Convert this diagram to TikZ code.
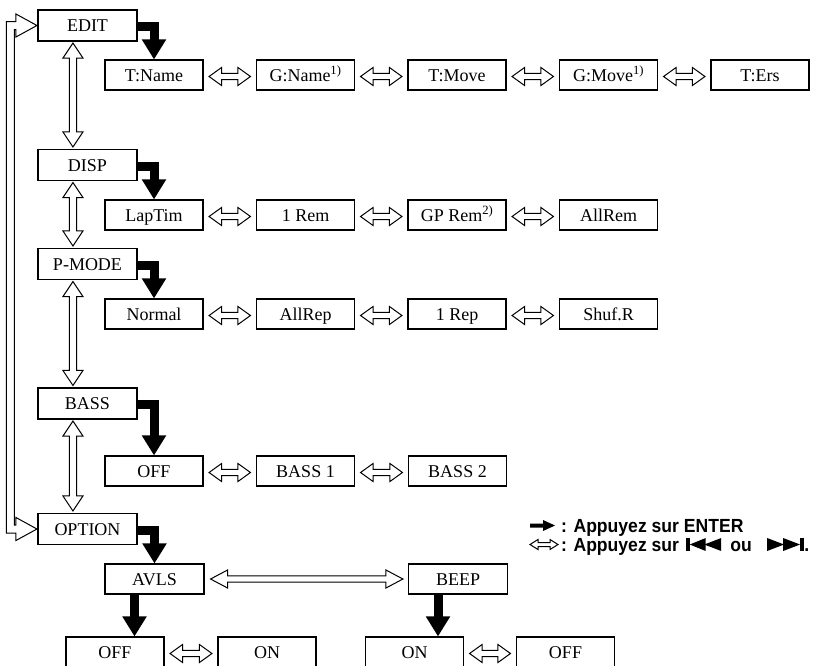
\documentclass[tikz,border=0pt]{standalone}
\usepackage{fontspec}
\setmainfont{Liberation Serif}
\newfontfamily\legendfont[FakeStretch=0.925]{Liberation Sans}
\usetikzlibrary{arrows.meta,calc}

% horizontal hollow double arrow: #1 left tip, #2 right tip, #3 head length, #4 head half height, #5 shaft half
\newcommand\hdarrow[5]{\path[hollow] let \p1=(#1), \p2=(#2) in
  (\x1,\y1) -- ++(#3,#4) -- ++(0pt,#5-#4) -- (\x2-#3,\y1+#5) -- ++(0pt,#4-#5)
  -- (\x2,\y1) -- ++(-#3,-#4) -- ++(0pt,#4-#5) -- (\x1+#3,\y1-#5) -- ++(0pt,#5-#4) -- cycle;}
% vertical hollow double arrow: #1 top tip, #2 bottom tip
\newcommand\vdarrow[5]{\path[hollow] let \p1=(#1), \p2=(#2) in
  (\x1,\y1) -- ++(#4,-#3) -- ++(#5-#4,0pt) -- (\x1+#5,\y2+#3) -- ++(#4-#5,0pt)
  -- (\x1,\y2) -- ++(-#4,#3) -- ++(#4-#5,0pt) -- (\x1-#5,\y1-#3) -- ++(#5-#4,0pt) -- cycle;}
\newcommand\boxarrow[2]{\hdarrow{[xshift=5.5pt,yshift=-1.5pt]#1.east}{[xshift=-5.5pt,yshift=-1.5pt]#2.west}{12.5pt}{9pt}{3.2pt}}
\newcommand\menuarrow[2]{\vdarrow{[xshift=35.5pt,yshift=-1.5pt]#1.south west}{[xshift=35.5pt,yshift=2pt]#2.north west}{15pt}{10pt}{3.6pt}}

\begin{document}
\begin{tikzpicture}[x=1pt,y=-1pt,
  box/.style={draw, line width=1.1pt, minimum width=98pt, minimum height=30pt, inner sep=0pt,
    text height=12pt, text depth=0pt, font=\fontsize{18}{20}\selectfont},
  mbox/.style={box, minimum width=99pt, minimum height=31pt},
  hollow/.style={draw, fill=white, line width=1pt, line join=miter},
  enterarrow/.style={line width=9pt, line join=miter,
    -{Triangle[length=20pt 0 0, width=23pt 0 0]}},
  legend/.style={inner sep=0pt, font=\legendfont\bfseries\fontsize{19}{22}\selectfont}]
\useasboundingbox (0,0) rectangle (821,665);

% main menu
\node[mbox] (EDIT) at (87.5,25.5) {EDIT};
\node[mbox] (DISP) at (87.5,165) {DISP};
\node[mbox] (PMODE) at (87.5,264) {P-MODE};
\node[mbox] (BASS) at (87.5,403.5) {BASS};
\node[mbox] (OPTION) at (87.5,529) {OPTION};

% row 1
\node[box] (TName) at (154,75) {T:Name};
\node[box] (GName) at (305.5,75) {G:Name\textsuperscript{1)}};
\node[box] (TMove) at (457,75) {T:Move};
\node[box] (GMove) at (608.5,75) {G:Move\textsuperscript{1)}};
\node[box] (TErs) at (760,75) {T:Ers};
% row 2
\node[box] (LapTim) at (154,215) {LapTim};
\node[box] (OneRem) at (305.5,215) {1 Rem};
\node[box] (GPRem) at (457,215) {GP Rem\textsuperscript{2)}};
\node[box] (AllRem) at (608.5,215) {AllRem};
% row 3
\node[box] (Normal) at (154,314) {Normal};
\node[box] (AllRep) at (305.5,314) {AllRep};
\node[box] (OneRep) at (457,314) {1 Rep};
\node[box] (ShufR) at (608.5,314) {Shuf.R};
% row 4
\node[box] (OFF) at (154,471) {OFF};
\node[box] (BassOne) at (305.5,471) {BASS 1};
\node[box] (BassTwo) at (457.5,471) {BASS 2};
% option
\node[box, minimum width=99pt] (AVLS) at (154.5,579) {AVLS};
\node[box, minimum width=99pt] (BEEP) at (458,579) {BEEP};
\node[box] (OFFa) at (115,652) {OFF};
\node[box] (ONa) at (267,652) {ON};
\node[box] (ONb) at (414.5,652) {ON};
\node[box] (OFFb) at (565.5,652) {OFF};

% ENTER arrows
\draw[enterarrow] ([yshift=-1pt]EDIT.east) -| (TName.north);
\draw[enterarrow] ([yshift=-1pt]DISP.east) -| (LapTim.north);
\draw[enterarrow] ([yshift=-1pt]PMODE.east) -| (Normal.north);
\draw[enterarrow] ([yshift=-1pt]BASS.east) -| (OFF.north);
\draw[enterarrow] ([yshift=-1pt]OPTION.east) -| (AVLS.north);
\draw[enterarrow] ([xshift=-20pt]AVLS.south) -- ([xshift=-20pt]AVLS.south |- OFFa.north);
\draw[enterarrow] ([xshift=-20pt]BEEP.south) -- ([xshift=-20pt]BEEP.south |- ONb.north);

% horizontal hollow arrows
\boxarrow{TName}{GName}
\boxarrow{GName}{TMove}
\boxarrow{TMove}{GMove}
\boxarrow{GMove}{TErs}
\boxarrow{LapTim}{OneRem}
\boxarrow{OneRem}{GPRem}
\boxarrow{GPRem}{AllRem}
\boxarrow{Normal}{AllRep}
\boxarrow{AllRep}{OneRep}
\boxarrow{OneRep}{ShufR}
\boxarrow{OFF}{BassOne}
\boxarrow{BassOne}{BassTwo}
\boxarrow{OFFa}{ONa}
\boxarrow{ONb}{OFFb}
\hdarrow{[xshift=6pt]AVLS.east}{[xshift=-5pt]BEEP.west}{17pt}{9pt}{3.2pt}

% vertical hollow arrows
\menuarrow{EDIT}{DISP}
\menuarrow{DISP}{PMODE}
\menuarrow{PMODE}{BASS}
\menuarrow{BASS}{OPTION}

% outer loop
\path[hollow] let \p1=([xshift=-0.5pt]EDIT.west), \p2=([xshift=-0.5pt]OPTION.west) in
  (\x1,\y1) -- (\x1-21pt,\y1+11.5pt) -- (\x1-21pt,\y1+4pt) -- (\x1-30.5pt,\y1+4pt)
  -- (\x1-30.5pt,\y2-4pt) -- (\x1-21pt,\y2-4pt) -- (\x1-21pt,\y2-11.5pt) -- (\x2,\y2)
  -- (\x1-21pt,\y2+11.5pt) -- (\x1-21pt,\y2+4pt) -- (\x1-22.5pt,\y2+4pt)
  -- (\x1-22.5pt,\y1-4pt) -- (\x1-21pt,\y1-4pt) -- (\x1-21pt,\y1-11.5pt) -- cycle;

% legend
\node[legend, anchor=base west] (L1) at (561,532) {: Appuyez sur ENTER};
\fill[shift={(L1.base west)}] (-31,-8.5) -- (-18,-8.5) -- (-18,-12) -- (-6,-6.5)
  -- (-18,-1) -- (-18,-4.5) -- (-31,-4.5) -- cycle;
\node[legend, anchor=base west] (L2) at (561,551) {: Appuyez sur};
\coordinate (LA) at ([xshift=-31pt,yshift=6.5pt]L2.base west);
\coordinate (LB) at ([xshift=-3pt,yshift=6.5pt]L2.base west);
\hdarrow{LA}{LB}{8pt}{5pt}{2pt}
\coordinate (S1) at ([xshift=7pt]L2.base east);
\fill[shift={(S1)}] (0,0) rectangle (3.5,-13);
\fill[shift={(S1)}] (3.5,-6.5) -- (19.5,-13) -- (19.5,0) -- cycle;
\fill[shift={(S1)}] (18,-6.5) -- (35,-13) -- (35,0) -- cycle;
\node[legend, anchor=base west] (OU) at ([xshift=44pt]S1) {ou};
\coordinate (S2) at ([xshift=15pt]OU.base east);
\fill[shift={(S2)}] (0,0) -- (0,-13) -- (17,-6.5) -- cycle;
\fill[shift={(S2)}] (16,0) -- (16,-13) -- (33,-6.5) -- cycle;
\fill[shift={(S2)}] (33,0) rectangle (36.5,-13);
\node[legend, anchor=base west] (DOT) at ([xshift=37pt]S2) {.};
\end{tikzpicture}
\end{document}
